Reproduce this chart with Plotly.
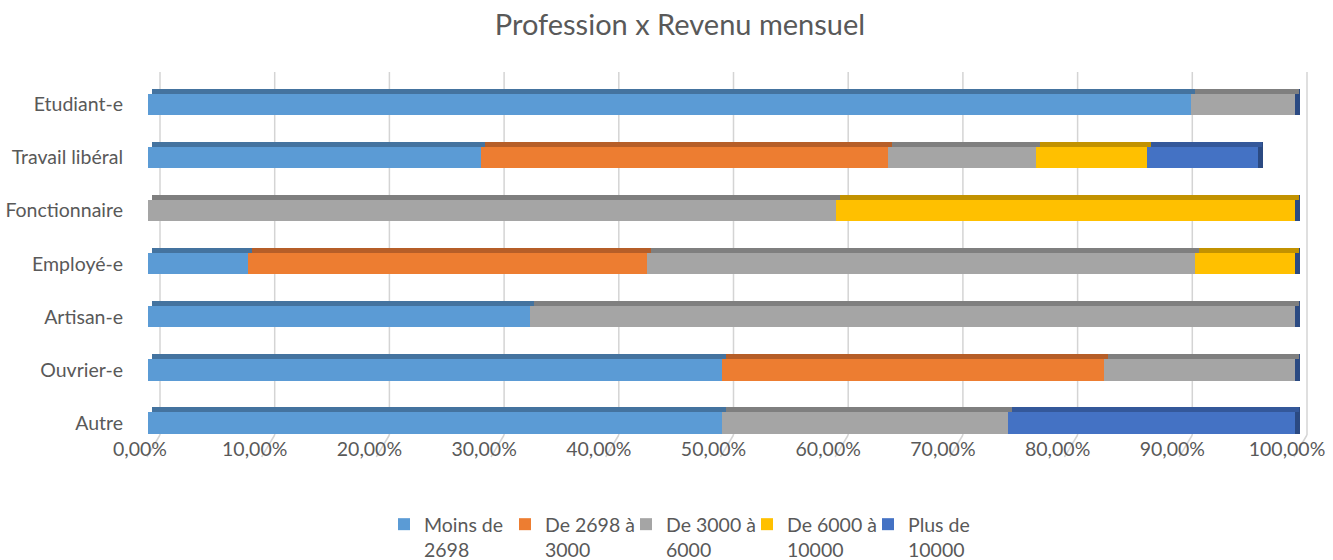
import plotly.graph_objects as go

categories = ["Autre", "Ouvrier-e", "Artisan-e", "Employé-e", "Fonctionnaire", "Travail libéral", "Etudiant-e"]
series_names = ["Moins de<br>2698", "De 2698 à<br>3000", "De 3000 à<br>6000", "De 6000 à<br>10000", "Plus de<br>10000"]
moins_2698 = [0.5, 0.5, 0.3333, 0.0870, 0.0, 0.2903, 0.9091]
de_2698_3000 = [0.0, 0.3333, 0.0, 0.3478, 0.0, 0.3548, 0.0]
de_3000_6000 = [0.25, 0.1667, 0.6667, 0.4783, 0.6, 0.1290, 0.0909]
de_6000_10000 = [0.0, 0.0, 0.0, 0.0870, 0.4, 0.0968, 0.0]
plus_10000 = [0.25, 0.0, 0.0, 0.0, 0.0, 0.0968, 0.0]
tick_vals = [0, 0.1, 0.2, 0.3, 0.4, 0.5, 0.6, 0.7, 0.8, 0.9, 1.0]

series_values = [moins_2698, de_2698_3000, de_3000_6000, de_6000_10000, plus_10000]
front_colors = ["#5B9BD5", "#ED7D31", "#A5A5A5", "#FFC000", "#4472C4"]
top_colors = ["#44739F", "#B65E28", "#7F7F7F", "#C29200", "#34589A"]
side_color = "#2B4A82"
grid_color = "#D4D4D4"
text_color = "#595959"
font_family = "Lato, 'Open Sans', sans-serif"
label_size = 19.5

fig = go.Figure()

# front faces
for name, vals, col in zip(series_names, series_values, front_colors):
    fig.add_trace(go.Bar(
        y=categories, x=vals, name=name, orientation="h",
        marker=dict(color=col, line=dict(width=0)),
        width=0.4, xaxis="x", yaxis="y",
    ))

# right-end side faces (stacked after the totals)
fig.add_trace(go.Bar(
    y=categories, x=[0.0045] * len(categories), orientation="h",
    marker=dict(color=side_color, line=dict(width=0)),
    width=0.5, offset=-0.2, showlegend=False, xaxis="x", yaxis="y", hoverinfo="skip",
))

# top faces
for vals, col in zip(series_values, top_colors):
    fig.add_trace(go.Bar(
        y=categories, x=vals, orientation="h",
        marker=dict(color=col, line=dict(width=0)),
        width=0.1, offset=0.2, showlegend=False, xaxis="x3", yaxis="y2", hoverinfo="skip",
    ))

px_per_unit = 1147.0
left_px, right_px = 128, 1320
a = -(148 - left_px) / px_per_unit
b = (right_px - 148) / px_per_unit
grid_shift = 12 / px_per_unit
top_shift = 4 / px_per_unit
yr = [-0.226, 6.611]

fig.update_layout(
    width=1333, height=560,
    margin=dict(l=left_px, r=1333 - right_px, t=72, b=125, autoexpand=False),
    paper_bgcolor="white", plot_bgcolor="white",
    barmode="stack",
    separators=", ",
    font=dict(family=font_family, color=text_color, size=label_size),
    title=dict(text="Profession x Revenu mensuel", x=680 / 1333, xanchor="center",
               y=1 - 25 / 560, yanchor="middle", xref="container", yref="container",
               font=dict(size=29, color=text_color, family=font_family)),
    xaxis=dict(range=[a, b], showgrid=False, zeroline=False, showline=False,
               tickvals=tick_vals, tickformat=".2%", ticks="", automargin=False,
               ticklabelshift=-8, ticklabelstandoff=0,
               tickfont=dict(size=label_size, color=text_color)),
    xaxis3=dict(range=[a - top_shift, b - top_shift], overlaying="x", anchor="y2",
                showgrid=False, showticklabels=False, zeroline=False, showline=False, ticks="",
                automargin=False),
    yaxis=dict(range=yr, showgrid=False, zeroline=False, showline=False, ticks="",
               automargin=False, tickfont=dict(size=label_size, color=text_color),
               ticklabelstandoff=4),
    yaxis2=dict(range=yr, overlaying="y", showgrid=False, showticklabels=False,
                zeroline=False, showline=False, ticks="", automargin=False),
    legend=dict(orientation="h", xref="container", yref="container",
                x=384 / 1333, xanchor="left",
                y=1 - 505 / 560, yanchor="top", valign="top",
                entrywidth=76, entrywidthmode="pixels",
                font=dict(size=label_size, color=text_color), itemclick=False,
                traceorder="normal"),
    showlegend=True,
)

# back-wall gridlines and slanted floor lines
for v in tick_vals:
    fig.add_shape(type="line", xref="x", yref="paper", layer="below",
                  x0=v + grid_shift, y0=0, x1=v + grid_shift, y1=1,
                  line=dict(color=grid_color, width=1.5))
    fig.add_shape(type="line", xref="x", yref="paper", layer="below",
                  x0=v + grid_shift, y0=0, x1=v - 0.001, y1=-22 / 363,
                  line=dict(color=grid_color, width=1.5))

fig.write_html("out.html", config={"displayModeBar": False},
               post_script="document.body.style.margin='0px';")
